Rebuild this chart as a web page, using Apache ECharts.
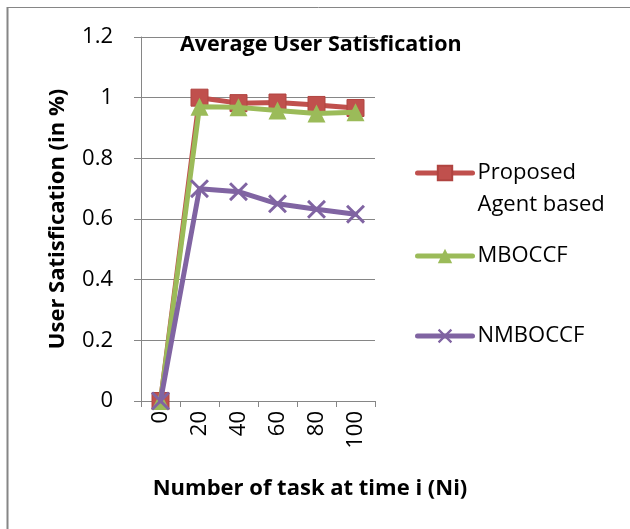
<!DOCTYPE html>
<html><head><meta charset="utf-8">
<script src="https://cdn.jsdelivr.net/npm/echarts@6/dist/echarts.min.js"></script>
<style>html,body{margin:0;padding:0;background:#fff}#c{width:630px;height:529px}</style>
</head><body><div id="c"></div>
<script>
const categories = ['0','20','40','60','80','100'];
const proposed = [0, 1.0, 0.982, 0.984, 0.976, 0.966];
const mboccf = [0, 0.970, 0.968, 0.958, 0.948, 0.952];
const nmboccf = [0, 0.700, 0.690, 0.650, 0.632, 0.616];
const yTicks = {min: 0, max: 1.2, interval: 0.2};

const FONT = 'Open Sans';
const crossPath = 'path://M0,1.1L1.1,0L10,8.9L8.9,10Z M8.9,0L10,1.1L1.1,10L0,8.9Z';
const chart = echarts.init(document.getElementById('c'));
const legText = {fontFamily: FONT, fontSize: 22, color: '#000', lineHeight: 30};
const legLine = {width: 5, cap: 'round'};
chart.setOption({
  animation: false,
  backgroundColor: '#fff',
  textStyle: {fontFamily: FONT},
  title: {text: 'Average User Satisfication', left: 175, top: 29,
    textStyle: {fontFamily: FONT, fontWeight: 'bold', fontSize: 21.5, color: '#000'}},
  grid: {left: 141, right: 255, top: 37, bottom: 128, containLabel: false},
  legend: [
    {data: ['Proposed Agent based'], left: 410, top: 120, itemWidth: 55, itemHeight: 18, itemGap: 5, lineStyle: legLine,
     formatter: () => '\u00a0\nProposed\nAgent based',
     textStyle: {fontFamily: FONT, fontSize: 22, color: '#000', lineHeight: 32}},
    {data: ['MBOCCF'], left: 410, top: 236, itemWidth: 55, itemHeight: 18, lineStyle: legLine, textStyle: legText},
    {data: ['NMBOCCF'], left: 410, top: 316, itemWidth: 55, itemHeight: 18, lineStyle: legLine, textStyle: legText}
  ],
  xAxis: {type: 'category', data: categories, boundaryGap: true,
    name: 'Number of task at time i (Ni)', nameLocation: 'middle', nameGap: 77,
    nameTextStyle: {fontFamily: FONT, fontWeight: 'bold', fontSize: 22, color: '#000', padding: [0,0,0,104]},
    axisLine: {lineStyle: {color: '#868686', width: 1}},
    axisTick: {show: true, length: 6, lineStyle: {color: '#868686'}},
    axisLabel: {rotate: 90, fontSize: 22, color: '#000', margin: 10, fontFamily: FONT}
  },
  yAxis: {type: 'value', min: yTicks.min, max: yTicks.max, interval: yTicks.interval,
    name: 'User Satisfication (in %)', nameLocation: 'middle', nameGap: 72,
    nameTextStyle: {fontFamily: FONT, fontWeight: 'bold', fontSize: 22, color: '#000'},
    axisLine: {show: true, lineStyle: {color: '#868686'}},
    axisTick: {show: true, length: 7, lineStyle: {color: '#868686'}},
    splitLine: {lineStyle: {color: '#868686', width: 1}},
    axisLabel: {fontSize: 22, color: '#000', margin: 28, fontFamily: FONT,
      formatter: v => String(Math.round(v*10)/10)}
  },
  series: [
    {name: 'Proposed Agent based', type: 'line', data: proposed, symbol: 'rect', symbolSize: 17,
     lineStyle: {color: '#C0504D', width: 5, cap: 'round'}, itemStyle: {color: '#C0504D', borderColor: '#B04440', borderWidth: 1}, z: 2},
    {name: 'MBOCCF', type: 'line', data: mboccf, symbol: 'triangle', symbolSize: 18,
     lineStyle: {color: '#9BBB59', width: 5, cap: 'round'}, itemStyle: {color: '#9BBB59'}, z: 3},
    {name: 'NMBOCCF', type: 'line', data: nmboccf, symbol: crossPath, symbolSize: 19,
     lineStyle: {color: '#8064A2', width: 5, cap: 'round'}, itemStyle: {color: '#8064A2'}, z: 4}
  ],
  graphic: [
    {type: 'line', shape: {x1: 7, y1: 7.5, x2: 630, y2: 7.5}, style: {stroke: '#868686', lineWidth: 1}},
    {type: 'line', shape: {x1: 7.5, y1: 7, x2: 7.5, y2: 529}, style: {stroke: '#868686', lineWidth: 2}}
  ]
});
</script></body></html>
